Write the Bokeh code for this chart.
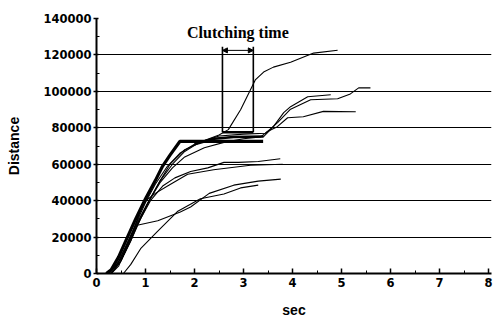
from bokeh.plotting import figure
from bokeh.models import FixedTicker, Arrow, NormalHead, Range1d, NumeralTickFormatter
from bokeh.embed import file_html
from bokeh.resources import INLINE
from bokeh.core.properties import value

# ---- data ----
c1_t = [0.2, 0.3, 0.45, 0.6, 0.8, 1.0, 1.2, 1.35, 1.5, 1.7, 3.4]
c1_d = [0, 2000, 9000, 18000, 30000, 41000, 51000, 59000, 65000, 72500, 72500]

c2_t = [0.25, 0.4, 0.6, 0.8, 1.0, 1.2, 1.45, 1.7, 2.0, 2.4, 2.8, 3.41, 3.61, 3.82, 3.96, 4.31, 4.78]
c2_d = [0, 4000, 15000, 27000, 39000, 49000, 59000, 66000, 71000, 74000, 75000, 75200, 80600, 88300, 91600, 97000, 98100]

c3_t = [0.3, 0.45, 0.65, 0.85, 1.05, 1.3, 1.55, 1.8, 2.1, 2.5, 3.0, 3.45, 3.7, 3.95, 4.37, 4.92, 5.18, 5.35, 5.59]
c3_d = [0, 4000, 16000, 28000, 39000, 51000, 60000, 67000, 72000, 75500, 76500, 77000, 83000, 90000, 95400, 95900, 98600, 101900, 101900]

c4_t = [0.3, 0.5, 0.7, 0.9, 1.1, 1.3, 1.5, 1.8, 2.2, 2.5, 2.69, 2.94, 3.24, 3.41, 3.61, 3.96, 4.43, 4.92]
c4_d = [0, 7000, 18000, 30000, 41000, 51000, 60000, 68000, 73000, 76000, 79000, 89900, 106300, 110600, 113300, 116000, 121000, 122600]

c5_t = [0.25, 0.45, 0.65, 0.85, 1.05, 1.3, 1.55, 1.8, 2.2, 2.6, 3.0, 3.35, 3.49, 3.69, 3.9, 4.22, 4.63, 5.29]
c5_d = [0, 6000, 18000, 29000, 39000, 50000, 58000, 64000, 69000, 72000, 74000, 75000, 78000, 80600, 85500, 86100, 89000, 88800]

c6_t = [0.3, 0.5, 0.7, 0.96, 1.2, 1.45, 1.86, 2.39, 3.14, 3.8]
c6_d = [0, 7000, 20000, 39000, 44000, 48000, 54500, 57000, 59400, 60000]

c7_t = [0.25, 0.5, 0.7, 0.9, 1.1, 1.35, 1.6, 1.92, 2.27, 2.6, 2.9, 3.3, 3.75]
c7_d = [0, 8000, 20000, 30000, 40000, 48000, 52500, 56000, 58000, 61000, 61000, 61500, 63000]

c8_t = [0.3, 0.5, 0.7, 0.83, 1.25, 1.71, 1.92, 2.3, 2.8, 3.3, 3.76]
c8_d = [0, 7000, 18000, 26500, 29000, 33800, 36500, 44000, 48500, 50700, 51800]

c9_t = [0.55, 0.7, 0.9, 1.24, 1.65, 2.12, 2.6, 2.94, 3.3]
c9_d = [0, 5000, 13600, 23000, 34000, 41000, 43600, 47000, 48500]

clutch_start = 2.57
clutch_end = 3.2
clutch_low = 77500
clutch_high = 124500
clutch_arrow = 122500

x_ticks = [0, 1, 2, 3, 4, 5, 6, 7, 8]
y_ticks = [0, 20000, 40000, 60000, 80000, 100000, 120000, 140000]
grid_levels = [20000, 40000, 60000, 80000, 100000, 120000]

# ---- figure ----
p = figure(width=493, height=320, output_backend="svg", toolbar_location=None,
           x_range=Range1d(0, 8.06), y_range=Range1d(0, 140000),
           min_border_left=96, min_border_right=2, min_border_top=18, min_border_bottom=45,
           background_fill_color="white", border_fill_color="white")
p.outline_line_color = None

p.xgrid.visible = False
p.ygrid.ticker = FixedTicker(ticks=grid_levels)
p.ygrid.grid_line_color = "black"
p.ygrid.grid_line_width = 1

p.xaxis.ticker = FixedTicker(ticks=x_ticks, minor_ticks=[i + 0.5 for i in range(8)])
p.yaxis.ticker = FixedTicker(ticks=y_ticks, minor_ticks=[v + 10000 for v in y_ticks[:-1]])
p.xaxis.formatter = NumeralTickFormatter(format="0")
p.yaxis.formatter = NumeralTickFormatter(format="0")

for ax in (p.xaxis[0], p.yaxis[0]):
    ax.axis_line_width = 2
    ax.axis_line_color = "black"
    ax.major_tick_line_color = "black"
    ax.minor_tick_line_color = "black"
    ax.major_tick_line_width = 1.5
    ax.major_label_text_font = "DejaVu Sans"
    ax.major_label_text_font_style = "bold"
    ax.major_label_text_font_size = "11.5px"
    ax.major_label_text_color = "black"
    ax.axis_label_text_font = "Liberation Sans"
    ax.axis_label_text_font_style = "bold"
    ax.axis_label_text_font_size = "14px"
    ax.axis_label_text_color = "black"

p.xaxis.major_tick_in = 5
p.xaxis.major_tick_out = 0
p.xaxis.minor_tick_in = 3
p.xaxis.minor_tick_out = 0
p.xaxis.major_label_standoff = 4
p.xaxis.axis_label = "sec"
p.xaxis.axis_label_standoff = 12

p.yaxis.major_tick_in = 2
p.yaxis.major_tick_out = 3
p.yaxis.minor_tick_in = 3
p.yaxis.minor_tick_out = 0
p.yaxis.major_label_standoff = 2
p.yaxis.axis_label = "Distance"
p.yaxis.axis_label_standoff = 18

# ---- curves ----
thin = [(c2_t, c2_d), (c3_t, c3_d), (c4_t, c4_d), (c5_t, c5_d),
        (c6_t, c6_d), (c7_t, c7_d), (c8_t, c8_d), (c9_t, c9_d)]
for t, d in thin:
    p.line(t, d, line_color="black", line_width=1.1)
p.line(c2_t[8:12], c2_d[8:12], line_color="black", line_width=2.5)
p.line(c1_t, c1_d, line_color="black", line_width=3.2)

# ---- clutching time annotation ----
p.segment(x0=[clutch_start, clutch_end], y0=[clutch_low, clutch_low],
          x1=[clutch_start, clutch_end], y1=[clutch_high, clutch_high],
          line_color="black", line_width=1.6)
p.segment(x0=[clutch_start], y0=[clutch_low], x1=[clutch_end], y1=[clutch_low],
          line_color="black", line_width=2.5)
p.add_layout(Arrow(x_start=clutch_start, x_end=clutch_end, y_start=clutch_arrow, y_end=clutch_arrow,
                   line_color="black", line_width=1,
                   start=NormalHead(size=5, fill_color="black", line_color="black"),
                   end=NormalHead(size=5, fill_color="black", line_color="black")))
p.text(x=[(clutch_start + clutch_end) / 2], y=[132400], text=["Clutching time"],
       text_font=value("Liberation Serif"), text_font_style="bold", text_font_size="16px",
       text_align="center", text_baseline="alphabetic", text_color="black")

open("out.html", "w").write(file_html(p, INLINE))
